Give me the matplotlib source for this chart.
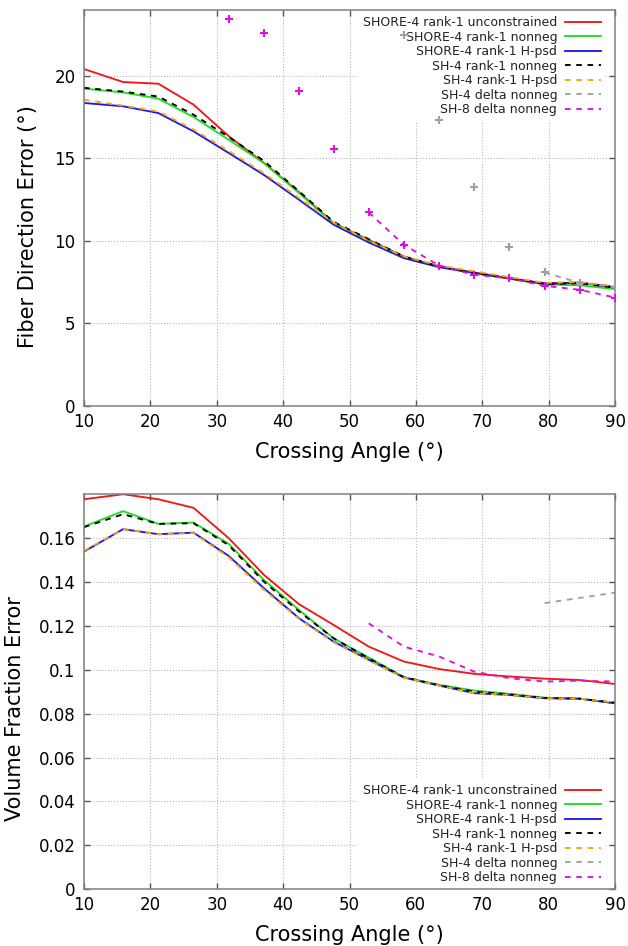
"""
两张误差曲线图：纤维方向误差 / 体积分数误差 vs 交叉角
"""
import numpy as np
import matplotlib
matplotlib.use('Agg')
import matplotlib.pyplot as plt
from matplotlib.ticker import FuncFormatter

plt.rcParams['font.family'] = ['DejaVu Sans']

# 交叉角 (°)
angles = [10.0, 15.9, 21.2, 26.5, 31.8, 37.1, 42.4, 47.6,
          52.9, 58.2, 63.5, 68.8, 74.1, 79.4, 84.7, 90.0]

labels = [
    'SHORE-4 rank-1 unconstrained',
    'SHORE-4 rank-1 nonneg',
    'SHORE-4 rank-1 H-psd',
    'SH-4 rank-1 nonneg',
    'SH-4 rank-1 H-psd',
    'SH-4 delta nonneg',
    'SH-8 delta nonneg',
]

# 上图：Fiber Direction Error (°)
fde_shore_uncon = [20.42, 19.63, 19.53, 18.26, 16.35, 14.73, 12.95, 11.08,
                   10.06, 9.05, 8.44, 8.08, 7.73, 7.43, 7.47, 7.19]
fde_shore_nonneg = [19.23, 19.00, 18.62, 17.51, 16.13, 14.72, 12.90, 11.05,
                    10.00, 9.00, 8.45, 8.05, 7.70, 7.35, 7.30, 7.07]
fde_shore_hpsd = [18.36, 18.16, 17.75, 16.64, 15.33, 14.00, 12.49, 10.98,
                  9.90, 8.95, 8.40, 8.05, 7.72, 7.40, 7.45, 7.17]
fde_sh4_nonneg = [19.28, 19.05, 18.75, 17.65, 16.30, 14.85, 13.00, 11.15,
                  10.10, 9.05, 8.45, 8.05, 7.72, 7.38, 7.42, 7.17]
fde_sh4_hpsd = [18.56, 18.20, 17.85, 16.75, 15.45, 14.10, 12.60, 11.10,
                10.00, 9.05, 8.50, 8.15, 7.80, 7.45, 7.50, 7.25]
# delta 方法只有部分点落在图内
fde_sh4_delta = [22.50, 17.31, 13.24, 9.64, 8.08, 7.45, 7.20]          # angles[9:]
fde_sh8_delta = [23.48, 22.60, 19.07, 15.57, 11.72, 9.76, 8.50, 7.94,
                 7.73, 7.27, 7.03, 6.56]                                # angles[4:]

# 下图：Volume Fraction Error
vfe_shore_uncon = [0.1776, 0.1799, 0.1776, 0.1737, 0.1599, 0.1432, 0.1298, 0.1204,
                   0.1105, 0.1037, 0.1003, 0.0981, 0.0969, 0.0959, 0.0953, 0.0935]
vfe_shore_nonneg = [0.1652, 0.1722, 0.1664, 0.1670, 0.1573, 0.1409, 0.1272, 0.1143,
                    0.1055, 0.0966, 0.0931, 0.0905, 0.0890, 0.0873, 0.0868, 0.0847]
vfe_shore_hpsd = [0.1538, 0.1640, 0.1617, 0.1624, 0.1518, 0.1371, 0.1234, 0.1128,
                  0.1045, 0.0964, 0.0928, 0.0893, 0.0885, 0.0870, 0.0868, 0.0847]
vfe_sh4_nonneg = [0.1649, 0.1708, 0.1664, 0.1667, 0.1567, 0.1401, 0.1265, 0.1143,
                  0.1052, 0.0966, 0.0929, 0.0900, 0.0888, 0.0871, 0.0868, 0.0850]
vfe_sh4_hpsd = [0.1541, 0.1641, 0.1617, 0.1622, 0.1512, 0.1364, 0.1231, 0.1125,
                0.1042, 0.0964, 0.0928, 0.0893, 0.0885, 0.0870, 0.0868, 0.0850]
vfe_sh4_delta = [0.1303, 0.1327, 0.1351]                                # angles[13:]
vfe_sh8_delta = [0.1211, 0.1105, 0.1060, 0.0991, 0.0961, 0.0946, 0.0950, 0.0946]  # angles[8:]

colors = ['#f01818', '#22dd22', '#1a1aee', '#000000', '#ffa500', '#a0a0a0', '#e010e0']
LW = 1.35
DASH = (0, (3, 3))


def style_axes(ax):
    ax.set_xlim(10, 90)
    ax.set_xticks(np.arange(10, 91, 10))
    for s in ax.spines.values():
        s.set_color('#808080')
        s.set_linewidth(1.1)
    ax.tick_params(direction='in', length=4.3, width=1.0, color='#555555',
                   top=True, right=True, labelsize=12)
    ax.tick_params(axis='x', pad=5)
    ax.tick_params(axis='y', pad=6)
    ax.grid(True, linestyle=':', color='#b8b8b8', linewidth=0.8)
    ax.set_axisbelow(True)
    ax.set_xlabel('Crossing Angle (°)', fontsize=15)


def add_legend(ax, loc, anchor):
    leg = ax.legend(loc=loc, bbox_to_anchor=anchor, markerfirst=False,
                    fontsize=9, labelspacing=0.12, handlelength=2.9,
                    handletextpad=0.6, borderpad=0.4, borderaxespad=0,
                    frameon=True, fancybox=False)
    leg.get_frame().set_facecolor('white')
    leg.get_frame().set_edgecolor('none')
    leg.get_frame().set_alpha(1.0)
    leg.set_zorder(1)
    for t in leg.get_texts():
        t.set_color('#222222')
    return leg


fig = plt.figure(figsize=(6.28, 9.46), dpi=100)
ax1 = fig.add_axes([84 / 628, 1 - 405.7 / 946, 531 / 628, 395.7 / 946])
ax2 = fig.add_axes([84 / 628, 1 - 889.3 / 946, 531 / 628, 395.3 / 946])

# ---- 上图 ----
solid = [fde_shore_uncon, fde_shore_nonneg, fde_shore_hpsd]
for i, ys in enumerate(solid):
    ax1.plot(angles, ys, color=colors[i], lw=LW, label=labels[i])
ax1.plot(angles, fde_sh4_nonneg, color=colors[3], lw=LW, ls=DASH, label=labels[3])
ax1.plot(angles, fde_sh4_hpsd, color=colors[4], lw=LW, ls=DASH, label=labels[4])
ax1.plot(angles[13:], fde_sh4_delta[4:], color=colors[5], lw=LW, ls=DASH, label=labels[5])
ax1.plot(angles[8:], fde_sh8_delta[4:], color=colors[6], lw=LW, ls=DASH, label=labels[6])
ax1.plot(angles[9:], fde_sh4_delta, ls='none', marker='+', ms=6, mew=1.5,
         color=colors[5], zorder=6)
ax1.plot(angles[4:], fde_sh8_delta, ls='none', marker='+', ms=6, mew=1.5,
         color=colors[6], zorder=6)

ax1.set_ylim(0, 24)
ax1.set_yticks([0, 5, 10, 15, 20])
style_axes(ax1)
ax1.set_ylabel('Fiber Direction Error (°)', fontsize=15)
ax1.yaxis.set_label_coords(-0.087, 0.453)
ax1.xaxis.set_label_coords(0.5, -0.092)
add_legend(ax1, 'upper right', (0.983, 0.997))

# ---- 下图 ----
solid = [vfe_shore_uncon, vfe_shore_nonneg, vfe_shore_hpsd]
for i, ys in enumerate(solid):
    ax2.plot(angles, ys, color=colors[i], lw=LW, label=labels[i])
ax2.plot(angles, vfe_sh4_nonneg, color=colors[3], lw=LW, ls=DASH, label=labels[3])
ax2.plot(angles, vfe_sh4_hpsd, color=colors[4], lw=LW, ls=DASH, label=labels[4])
ax2.plot(angles[13:], vfe_sh4_delta, color=colors[5], lw=LW, ls=DASH, label=labels[5])
ax2.plot(angles[8:], vfe_sh8_delta, color=colors[6], lw=LW, ls=DASH, label=labels[6])

ax2.set_ylim(0, 0.18)
ax2.set_yticks(np.arange(0, 0.161, 0.02))
ax2.yaxis.set_major_formatter(FuncFormatter(lambda v, p: '%g' % round(v, 4)))
style_axes(ax2)
ax2.set_ylabel('Volume Fraction Error', fontsize=15)
ax2.yaxis.set_label_coords(-0.111, 0.457)
ax2.xaxis.set_label_coords(0.5, -0.090)
add_legend(ax2, 'lower right', (0.983, 0.0))

fig.savefig('out.png', dpi=100)
